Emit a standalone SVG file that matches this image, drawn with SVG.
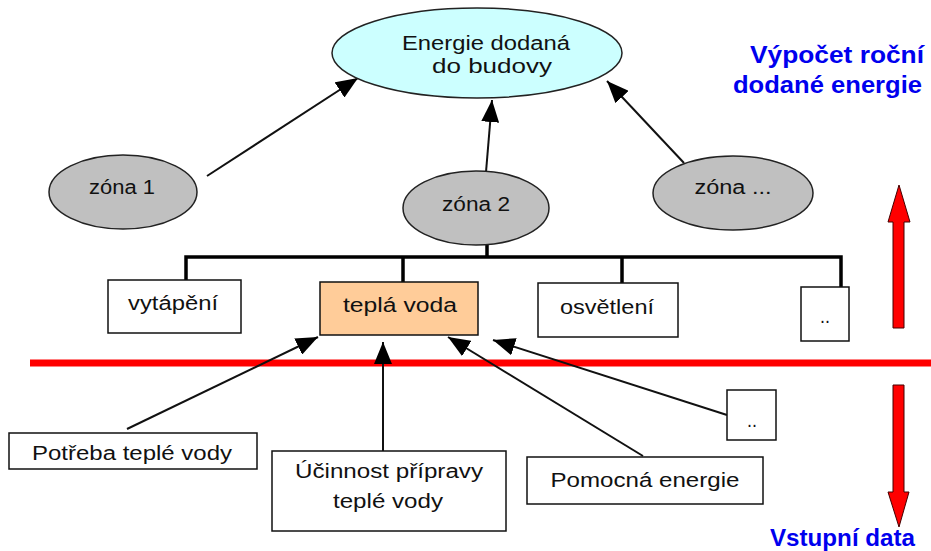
<svg xmlns="http://www.w3.org/2000/svg" width="931" height="551" viewBox="0 0 931 551">
<defs>
<style>
.t{font-family:"Liberation Sans",Arial,sans-serif;font-size:20px;fill:#111;text-anchor:middle}
.b{font-family:"Liberation Sans",Arial,sans-serif;font-size:24px;font-weight:bold;fill:#0000ee}
.zone{fill:#c0c0c0;stroke:#222;stroke-width:1.5}
.box{fill:#fff;stroke:#111;stroke-width:1.5}
.c{stroke:#111;stroke-width:2;fill:none;marker-end:url(#ah)}
.bus{stroke:#000;stroke-width:3.5;fill:none}
.red{fill:#ff0000;stroke:#400;stroke-width:1}
</style>
<marker id="ah" markerUnits="userSpaceOnUse" markerWidth="22" markerHeight="18" refX="22" refY="9" orient="auto">
<path d="M0,0 L22,9 L0,18 z" fill="#000"/>
</marker>
</defs>
<rect width="931" height="551" fill="#fff"/>

<g id="connectors">
<path class="bus" d="M186,281 V257 H841 V287 M403,282 V257 M487,245 V257 M622,283 V257"/>
<line class="c" x1="207" y1="176" x2="358" y2="78"/>
<line class="c" x1="486" y1="172" x2="492" y2="100"/>
<line class="c" x1="684" y1="163" x2="607" y2="81"/>
<line x1="30" y1="363" x2="931" y2="363" stroke="#ff0000" stroke-width="7"/>
<line class="c" x1="127" y1="429" x2="318" y2="337"/>
<line class="c" x1="383" y1="451" x2="383" y2="342"/>
<line class="c" x1="643" y1="456" x2="448" y2="337"/>
<line class="c" x1="727" y1="415" x2="493" y2="340"/>
</g>

<g id="energie">
<ellipse cx="477" cy="53" rx="145" ry="45" fill="#ccffff" stroke="#222" stroke-width="1.5"/>
<text class="t" x="486" y="50" textLength="168" lengthAdjust="spacingAndGlyphs">Energie dodaná</text>
<text class="t" x="492" y="73" textLength="120" lengthAdjust="spacingAndGlyphs">do budovy</text>
</g>

<g id="zona1">
<ellipse class="zone" cx="123" cy="192" rx="74" ry="37"/>
<text class="t" x="122" y="194" textLength="66" lengthAdjust="spacingAndGlyphs">zóna 1</text>
</g>
<g id="zona2">
<ellipse class="zone" cx="476" cy="208" rx="73" ry="37"/>
<text class="t" x="476" y="211" textLength="68" lengthAdjust="spacingAndGlyphs">zóna 2</text>
</g>
<g id="zonaN">
<ellipse class="zone" cx="733" cy="193" rx="80" ry="37"/>
<text class="t" x="733" y="194" textLength="77" lengthAdjust="spacingAndGlyphs">zóna ...</text>
</g>

<g id="vytapeni">
<rect class="box" x="108" y="280" width="133" height="53"/>
<text class="t" x="173" y="310" textLength="90" lengthAdjust="spacingAndGlyphs">vytápění</text>
</g>
<g id="tepla-voda">
<rect x="320" y="282" width="158" height="53" fill="#ffcc99" stroke="#111" stroke-width="1.5"/>
<text class="t" x="400" y="312" textLength="114" lengthAdjust="spacingAndGlyphs">teplá voda</text>
</g>
<g id="osvetleni">
<rect class="box" x="538" y="283" width="140" height="54"/>
<text class="t" x="607" y="314" textLength="94" lengthAdjust="spacingAndGlyphs">osvětlení</text>
</g>
<g id="dots-top">
<rect class="box" x="801" y="287" width="48" height="54"/>
<text class="t" x="825" y="323" textLength="10" lengthAdjust="spacingAndGlyphs">..</text>
</g>

<g id="potreba">
<rect class="box" x="9" y="433" width="248" height="36"/>
<text class="t" x="132" y="460" textLength="200" lengthAdjust="spacingAndGlyphs">Potřeba teplé vody</text>
</g>
<g id="ucinnost">
<rect class="box" x="272" y="451" width="234" height="80"/>
<text class="t" x="389" y="478" textLength="188" lengthAdjust="spacingAndGlyphs">Účinnost přípravy</text>
<text class="t" x="388" y="508" textLength="110" lengthAdjust="spacingAndGlyphs">teplé vody</text>
</g>
<g id="pomocna">
<rect class="box" x="527" y="457" width="236" height="47"/>
<text class="t" x="645" y="487" textLength="189" lengthAdjust="spacingAndGlyphs">Pomocná energie</text>
</g>
<g id="dots-bottom">
<rect class="box" x="727" y="390" width="49" height="50"/>
<text class="t" x="752" y="427" textLength="10" lengthAdjust="spacingAndGlyphs">..</text>
</g>

<g id="arrow-up">
<polygon class="red" points="899,185 910,222 904,222 904,328 893,328 893,222 888,222"/>
</g>
<g id="arrow-down">
<polygon class="red" points="893,385 904,385 904,492 909,492 899,527 888,492 893,492"/>
</g>

<g id="labels">
<text class="b" x="750" y="63" textLength="174" lengthAdjust="spacingAndGlyphs">Výpočet roční</text>
<text class="b" x="733" y="93" textLength="189" lengthAdjust="spacingAndGlyphs">dodané energie</text>
<text class="b" x="770" y="546" textLength="145" lengthAdjust="spacingAndGlyphs">Vstupní data</text>
</g>
</svg>
